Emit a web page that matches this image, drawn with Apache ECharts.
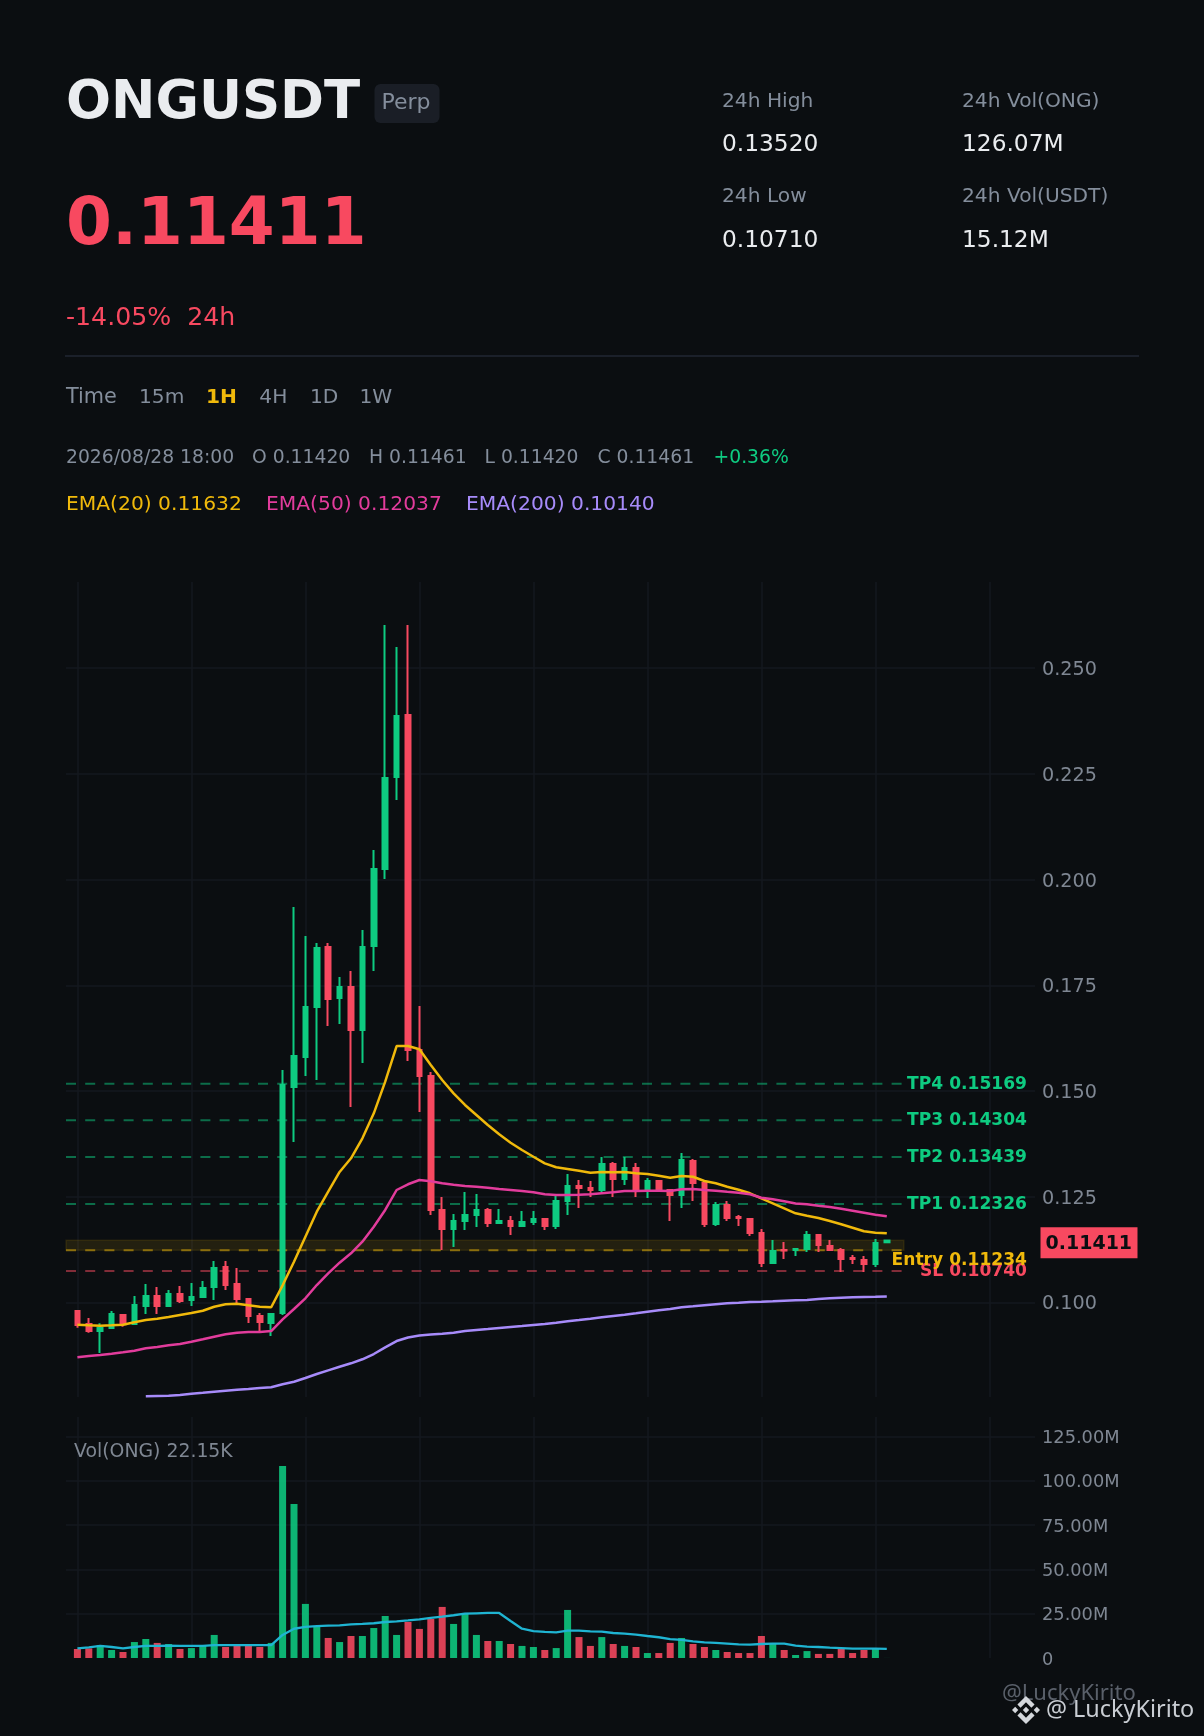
<!DOCTYPE html>
<html><head><meta charset="utf-8">
<style>html,body{margin:0;padding:0;background:#0b0e11}#c{width:1204px;height:1736px}</style>
<script src="https://cdn.jsdelivr.net/npm/echarts@6/dist/echarts.min.js"></script>
</head><body><div id="c"></div>
<script>
// [open, close, low, high]
const candles = [
[.09794,.09463,.09399,.09818],[.09487,.09321,.09281,.09629],[.09321,.09392,.08801,.09503],[.09392,.09723,.09368,.09794],
[.09700,.09480,.09423,.09700],[.09487,.09936,.09487,.10149],[.09912,.10149,.09723,.10433],[.10149,.09912,.09723,.10362],
[.09912,.10196,.09912,.10291],[.10196,.10031,.09983,.10386],[.10054,.10125,.09912,.10457],[.10125,.10338,.10102,.10504],
[.10362,.10811,.10054,.10977],[.10835,.10409,.10291,.10977],[.10433,.10078,.09983,.10811],[.10078,.09676,.09510,.10078],
[.09676,.09534,.09321,.09747],[.09510,.09723,.09203,.09747],[.09747,.15141,.09700,.15496],[.15093,.15827,.13792,.19352],
[.15803,.16986,.15354,.18666],[.16986,.18382,.15259,.18500],[.18405,.17175,.16536,.18500],[.17199,.17459,.16584,.17696],
[.17459,.16442,.14620,.17838],[.16442,.18405,.15661,.18807],[.18429,.20251,.17838,.20700],[.20251,.22403,.20014,.26023],
[.22427,.23870,.21883,.25503],[.23894,.15969,.15708,.26023],[.15969,.15354,.14502,.17010],[.15354,.12184,.12065,.15448],
[.12184,.11734,.11237,.12491],[.11734,.11923,.11308,.12089],[.11923,.12065,.11710,.12609],[.12065,.12184,.11781,.12562],
[.12184,.11876,.11781,.12231],[.11876,.11923,.11852,.12207],[.11923,.11805,.11592,.12042],[.11805,.11900,.11781,.12160],
[.11900,.11971,.11829,.12160],[.11971,.11805,.11710,.11994],[.11805,.12396,.11734,.12515],[.12396,.12751,.12065,.13035],
[.12751,.12704,.12231,.12893],[.12704,.12657,.12491,.12870],[.12657,.13272,.12609,.13437],[.13272,.12917,.12491,.13319],
[.12917,.13177,.12775,.13437],[.13177,.12657,.12491,.13295],[.12657,.12870,.12467,.12941],[.12870,.12633,.12633,.12870],
[.12657,.12538,.11923,.12680],[.12538,.13366,.12231,.13532],[.13343,.12822,.12396,.13390],[.12822,.11852,.11781,.12822],
[.11852,.12302,.11805,.12373],[.12302,.11994,.11923,.12396],[.12018,.11994,.11805,.12065],[.11971,.11639,.11568,.11994],
[.11639,.10930,.10835,.11734],[.10930,.11214,.10906,.11474],[.11237,.11225,.11024,.11427],[.11237,.11261,.11095,.11285],
[.11261,.11592,.11190,.11687],[.11592,.11356,.11190,.11592],[.11332,.11237,.11214,.11474],[.11237,.11024,.10717,.11285],
[.11048,.11024,.10906,.11119],[.11001,.10906,.10717,.11095],[.10906,.11403,.10835,.11498],[.11420,.11461,.11420,.11461]
];
const ema20 = [.09470,.09456,.09446,.09456,.09470,.09527,.09581,.09612,.09652,.09700,.09747,.09801,.09896,.09953,.09967,.09929,.09896,.09882,
.10402,.10960,.11552,.12143,.12616,.13083,.13407,.13880,.14471,.15219,.16063,.16063,.15985,.15614,.15259,.14944,.14668,.14431,.14194,.13974,
.13776,.13603,.13444,.13288,.13194,.13154,.13113,.13066,.13083,.13075,.13083,.13052,.13035,.12995,.12948,.12988,.12971,.12870,.12815,.12735,
.12664,.12579,.12460,.12342,.12224,.12105,.12049,.11994,.11923,.11845,.11765,.11680,.11647,.11632];
const ema50 = [.08699,.08730,.08753,.08784,.08817,.08855,.08912,.08943,.08983,.09013,.09068,.09125,.09186,.09243,.09281,.09297,.09297,.09321,
.09598,.09841,.10095,.10409,.10686,.10937,.11159,.11434,.11788,.12184,.12657,.12792,.12893,.12862,.12815,.12782,.12751,.12735,.12711,.12680,
.12657,.12633,.12602,.12555,.12538,.12538,.12545,.12555,.12579,.12602,.12633,.12633,.12640,.12640,.12633,.12673,.12680,.12657,.12640,.12616,
.12593,.12555,.12475,.12437,.12389,.12337,.12318,.12285,.12254,.12214,.12167,.12120,.12072,.12037];
const ema200 = ['-','-','-','-','-','-',.07776,.07783,.07790,.07807,.07838,.07861,.07885,.07909,.07932,.07949,.07973,.07989,
.08060,.08122,.08209,.08304,.08391,.08476,.08557,.08652,.08777,.08935,.09084,.09167,.09215,.09238,.09257,.09281,.09321,.09345,.09368,.09392,
.09416,.09439,.09463,.09487,.09517,.09551,.09581,.09612,.09645,.09676,.09707,.09740,.09778,.09811,.09841,.09882,.09905,.09929,.09953,.09976,
.09991,.10007,.10014,.10024,.10038,.10047,.10054,.10078,.10095,.10109,.10118,.10125,.10132,.10140];
const volumes = [5.08,5.45,7.3,4.5,3.4,9,10.7,8.5,7.9,5.1,5.6,6.8,13,6.2,6.8,6.8,6.2,8.5,108.3,86.9,30.5,18,11.3,9,12.4,12.4,16.9,23.7,13,20.3,16.4,22,28.8,19.2,25.4,13,
9.6,9.6,7.9,6.8,6.2,4.5,5.6,27.1,11.8,6.8,11.8,7.9,6.8,6.2,2.8,2.8,8.5,11.3,7.9,6.2,4.5,3.4,2.8,2.8,12.4,7.9,4.5,1.7,3.9,2.3,2.3,5.1,2.8,4.5,5.1,0.02215];
const volMA = [5.45,6,6.8,6.2,5.45,6.2,6.8,6.8,7,6.8,6.8,6.8,7.3,7.3,7.3,7.3,7.3,7.3,13,16.5,17.5,18,18.2,18.4,19,19.2,19.6,20.3,20.7,21.2,21.8,22.6,23.3,24.1,25,25.2,
25.4,25.4,20.9,16.5,15.2,14.7,14.5,15.4,15.4,15,14.9,14.1,13.7,13.2,12.4,11.7,10.7,10.2,9.4,8.8,8.5,8.1,7.7,7.5,7.9,8.1,8.1,7,6.4,6.2,5.8,5.6,5.3,5.3,5.3,5.1];
const priceTicks = [.1,.125,.15,.175,.2,.225,.25];
const volTicks = [0,25,50,75,100,125];
const tpLevels = [['TP4 0.15169',.15169],['TP3 0.14304',.14304],['TP2 0.13439',.13439],['TP1 0.12326',.12326]];
const entryLevel = .11234, entryZoneTop = .1147, slLevel = .1074, lastPrice = .11411;
const categories = Array.from({length:86},(_,k)=>k?String(k):'');

const UP='#0ecb81', DOWN='#f84960', GRID='#14181f', AXIS='#7f8793', BG='#0b0e11';
const YEL='#f0b90b', PINK='#e23c9c', VIO='#a78bfa', CYAN='#1fb4d2';
const FONT='"DejaVu Sans"';
const pad = a => ['-'].concat(a);
const LEVEL_END = 73.5, X_SPAN = 85;

const chart = echarts.init(document.getElementById('c'), null, {width:1204,height:1736});

function levelSeries(v,color,extra){
  return Object.assign({type:'line',xAxisIndex:1,yAxisIndex:0,z:1,silent:true,symbol:'none',
    data:[[0,v],[LEVEL_END,v]],
    lineStyle:{color,width:2,opacity:.5,type:[10,9.2]}},extra||{});
}
const up = c => c[1]>=c[0];
chart.setOption({
  animation:false,backgroundColor:BG,
  textStyle:{fontFamily:FONT},
  grid:[{left:66,right:169,top:582,height:815},{left:66,right:169,top:1417,height:241}],
  xAxis:[
    {type:'category',gridIndex:0,data:categories,boundaryGap:false,axisLine:{show:false},axisTick:{show:false},axisLabel:{show:false},
     splitLine:{show:true,interval:(i)=>i%10===1,lineStyle:{color:GRID,width:1.5}}},
    {type:'value',gridIndex:0,min:0,max:X_SPAN,show:false},
    {type:'category',gridIndex:1,data:categories,boundaryGap:false,axisLine:{show:false},axisTick:{show:false},axisLabel:{show:false},
     splitLine:{show:true,interval:(i)=>i%10===1,lineStyle:{color:GRID,width:1.5}}}
  ],
  yAxis:[
    {type:'value',gridIndex:0,position:'right',min:.0776,max:.2704,scale:true,axisLine:{show:false},
     axisTick:{show:false,customValues:priceTicks},
     axisLabel:{customValues:priceTicks,formatter:v=>v.toFixed(3),color:AXIS,fontSize:19.2,fontFamily:FONT,margin:7,verticalAlign:'top',lineHeight:4},
     splitLine:{show:true,lineStyle:{color:GRID,width:1.5}}},
    {type:'value',gridIndex:1,position:'right',min:0,max:135.9,axisLine:{show:false},
     axisTick:{show:false,customValues:volTicks},
     axisLabel:{customValues:volTicks,formatter:v=>v===0?'0':v.toFixed(2)+'M',color:AXIS,fontSize:17.8,fontFamily:FONT,margin:7,verticalAlign:'top',lineHeight:4},
     splitLine:{show:true,showMinLine:false,lineStyle:{color:GRID,width:1.5}}}
  ],
  series:[
    levelSeries(tpLevels[0][1],UP),levelSeries(tpLevels[1][1],UP),levelSeries(tpLevels[2][1],UP),levelSeries(tpLevels[3][1],UP),
    levelSeries(entryLevel,YEL,{markArea:{silent:true,itemStyle:{color:'rgba(240,185,11,.11)',borderColor:'rgba(240,185,11,.1)',borderWidth:1.5},
      data:[[{coord:[0,entryZoneTop]},{coord:[LEVEL_END,entryLevel]}]]}}),
    levelSeries(slLevel,DOWN),
    {type:'candlestick',name:'ONGUSDT',xAxisIndex:0,yAxisIndex:0,z:2,barWidth:5,silent:true,
     data:pad(candles.map(c=>c)).map(c=>c==='-'?['-','-','-','-']:c),
     itemStyle:{color:UP,color0:DOWN,borderColor:UP,borderColor0:DOWN,borderWidth:2}},
    {type:'line',name:'EMA(20)',xAxisIndex:0,yAxisIndex:0,z:3,symbol:'none',silent:true,data:pad(ema20),lineStyle:{color:YEL,width:2.5}},
    {type:'line',name:'EMA(50)',xAxisIndex:0,yAxisIndex:0,z:3,symbol:'none',silent:true,data:pad(ema50),lineStyle:{color:PINK,width:2.5}},
    {type:'line',name:'EMA(200)',xAxisIndex:0,yAxisIndex:0,z:3,symbol:'none',silent:true,data:pad(ema200),lineStyle:{color:VIO,width:2.5}},
    {type:'bar',name:'Vol',xAxisIndex:2,yAxisIndex:1,barWidth:7,silent:true,
     data:pad(volumes.map((v,i)=>({value:v,itemStyle:{color:up(candles[i])?UP:DOWN,opacity:.88}})))},
    {type:'line',name:'Vol MA',xAxisIndex:2,yAxisIndex:1,z:3,symbol:'none',silent:true,data:pad(volMA),lineStyle:{color:CYAN,width:2.3}}
  ]
});

function T(text,x,y,size,fill,weight,align,family){
  return {type:'text',silent:true,z:10,style:{text,x,y,fill,fontSize:size,fontWeight:weight||'normal',fontFamily:family||FONT,
    textAlign:align||'left',textVerticalAlign:'middle'}};
}
const G='#848e9c', W='#eaecef';
const logoParts=[
  [[11.99,.01],[19.34,7.34],[16.62,10.06],[11.99,5.42],[7.35,10.08],[4.64,7.36]],
  [[16.62,13.92],[19.34,16.64],[11.99,23.99],[4.64,16.64],[7.35,13.92],[11.99,18.58]],
  [[11.99,9.28],[14.7,12],[11.99,14.7],[9.27,12]],
  [[2.72,9.28],[5.41,12],[2.72,14.69],[0,12]],
  [[21.26,9.28],[24,12],[21.28,14.72],[18.57,12]]
];
const gfx=[
  T('ONGUSDT',66,104,53,W,'bold'),
  {type:'rect',silent:true,z:9,shape:{x:374.5,y:84,width:65,height:39,r:6},style:{fill:'#1a1e26'}},
  T('Perp',381.5,103,22,G),
  T('0.11411',66,227,66,DOWN,'bold'),
  T('-14.05%  24h',66,318,25.2,DOWN),
  T('24h High',722,102,20.2,G),T('0.13520',722,145,23.3,W),
  T('24h Low',722,197,20.2,G),T('0.10710',722,240.5,23.3,W),
  T('24h Vol(ONG)',962,102,20.2,G),T('126.07M',962,145,23.3,W),
  T('24h Vol(USDT)',962,197,20.2,G),T('15.12M',962,240.5,23.3,W),
  {type:'rect',silent:true,z:9,shape:{x:65,y:355.3,width:1074,height:1.4},style:{fill:'#222733'}},
  T('Time',66,398,20.8,G),T('15m',139,398,20.2,G),T('1H',206,398,20.2,YEL,'bold'),T('4H',259.3,398,20.2,G),T('1D',310,398,20.2,G),T('1W',359.5,398,20.2,G),
  T('2026/08/28 18:00',66,458,18.75,G),T('O 0.11420',252,458,18.75,G),T('H 0.11461',369,458,18.75,G),T('L 0.11420',484.5,458,18.75,G),T('C 0.11461',597.5,458,18.75,G),T('+0.36%',713.5,458,18.75,UP),
  T('EMA(20) 0.11632',66,505,20.25,YEL),T('EMA(50) 0.12037',266,505,20.25,PINK),T('EMA(200) 0.10140',466,505,20.25,VIO),
  T('Vol(ONG) 22.15K',74,1452,18.85,AXIS),
  T('@LuckyKirito',1002,1694,22,'#5a606a','normal','left','"Noto Sans"'),
  T('@ LuckyKirito',1046,1710,23.4,'#c9cdd3','normal','left','"Noto Sans"')
];
logoParts.forEach(points=>gfx.push({type:'polygon',silent:true,z:11,x:1012,y:1696,scaleX:28/24,scaleY:28/24,shape:{points},style:{fill:'#d4d7dc'}}));
const py=v=>chart.convertToPixel({yAxisIndex:0},v);
tpLevels.forEach(([s,v])=>gfx.push(T(s,1027,py(v)+.5,17.1,UP,'bold','right')));
gfx.push(T('SL 0.10740',1027,py(slLevel)+.5,17.1,DOWN,'bold','right'));
gfx.push(T('Entry 0.11234',1027,py(entryLevel)+10.5,17.1,YEL,'bold','right'));
const ty=py(lastPrice);
gfx.push({type:'rect',silent:true,z:10,shape:{x:1040.5,y:ty-15.5,width:97,height:31},style:{fill:DOWN}});
gfx.push(Object.assign(T('0.11411',1088.8,ty+1,19,'#0b0e11','bold','center'),{z:11}));
chart.setOption({graphic:gfx});
</script></body></html>
